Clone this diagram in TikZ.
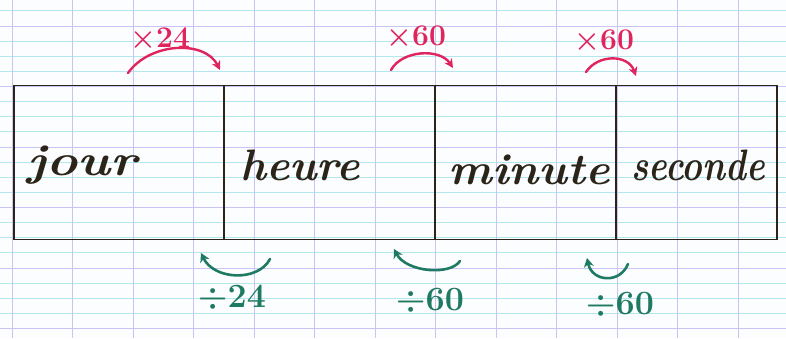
\documentclass[tikz,border=0pt]{standalone}
\usetikzlibrary{arrows.meta}
\definecolor{paper}{HTML}{FCFDFF}
\definecolor{cyanline}{HTML}{B4E6EE}
\definecolor{purpline}{HTML}{C8C4F4}
\definecolor{ink}{HTML}{2B2419}
\definecolor{redink}{HTML}{E0245E}
\definecolor{greenink}{HTML}{1F7A62}
\tikzset{
  cell/.style={draw=ink, line width=1.7pt, inner sep=0pt, minimum height=154pt},
  word/.style={font=\fontsize{44}{44}\selectfont\bfseries\itshape, text=ink, inner sep=0pt},
  rednote/.style={font=\fontsize{30}{30}\selectfont\bfseries, text=redink, inner sep=0pt},
  greennote/.style={font=\fontsize{34}{34}\selectfont\bfseries, text=greenink, inner sep=0pt},
  redarrow/.style={draw=redink, line width=2.4pt, line cap=round, -{Stealth[length=9pt,width=9pt]}},
  greenarrow/.style={draw=greenink, line width=2.6pt, line cap=round, -{Stealth[length=9pt,width=10pt]}},
}
\begin{document}
\begin{tikzpicture}[x=1pt,y=-1pt]
\fill[paper] (0,0) rectangle (786,338);
\useasboundingbox (0,0) rectangle (786,338);
% ruled paper
\foreach \k in {0,...,21} {
  \draw[cyanline, line width=0.9pt] (0,{10.9+15.125*\k}) -- (786,{10.9+15.125*\k});
}
\foreach \k in {0,...,5} {
  \draw[purpline, line width=0.9pt] (0,{26+60.5*\k}) -- (786,{26+60.5*\k});
}
\foreach \k in {0,...,12} {
  \draw[purpline, line width=0.9pt] ({12+60.5*\k},0) -- ({12+60.5*\k},338);
}
% table cells
\node[cell, minimum width=210pt] (c1) at (119,162.5) {};
\node[cell, minimum width=211pt] (c2) at (329.5,162.5) {};
\node[cell, minimum width=181pt] (c3) at (525.5,162.5) {};
\node[cell, minimum width=161pt] (c4) at (696.5,162.5) {};
% words
\node[word] (jour) at (82,165) {\scalebox{1.2}[1]{jour}};
\node[word] (heure) at (300,165) {\scalebox{1.0}[1]{heure}};
\node[word] (minute) at (529,170) {\scalebox{1.05}[1]{minute}};
\node[word] (seconde) at (698,165) {\scalebox{0.8}[1]{seconde}};
% multiplication arrows (red)
\node[rednote] (m1) at (160,38) {×24};
\node[rednote] (m2) at (416,36) {×60};
\node[rednote] (m3) at (604,40) {×60};
\coordinate (r1s) at (128,73);
\coordinate (r1e) at (220,70);
\coordinate (r2s) at (391,70);
\coordinate (r2e) at (453,68);
\coordinate (r3s) at (586,72);
\coordinate (r3e) at (636,76);
\draw[redarrow] (r1s) .. controls (150,42) and (205,40) .. (r1e);
\draw[redarrow] (r2s) .. controls (402,50) and (440,48) .. (r2e);
\draw[redarrow] (r3s) .. controls (598,54) and (628,54) .. (r3e);
% division arrows (green)
\node[greennote] (d1) at (232,297) {÷24};
\node[greennote] (d2) at (430,300) {÷60};
\node[greennote] (d3) at (620,304) {÷60};
\coordinate (g1s) at (270,259);
\coordinate (g1e) at (201,253);
\coordinate (g2s) at (460,261);
\coordinate (g2e) at (394,249);
\coordinate (g3s) at (628,264);
\coordinate (g3e) at (587,258);
\draw[greenarrow] (g1s) .. controls (258,282) and (214,280) .. (g1e);
\draw[greenarrow] (g2s) .. controls (450,276) and (406,272) .. (g2e);
\draw[greenarrow] (g3s) .. controls (620,284) and (592,282) .. (g3e);
\end{tikzpicture}
\end{document}
